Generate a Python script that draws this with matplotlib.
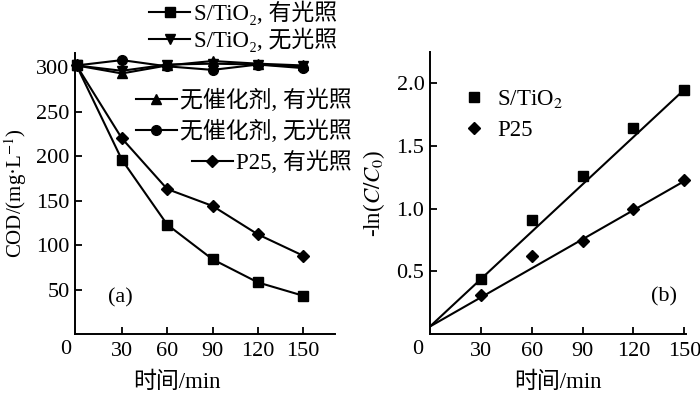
import matplotlib
matplotlib.use('Agg')
import matplotlib.pyplot as plt
from matplotlib.lines import Line2D

plt.rcParams['font.family'] = ['Liberation Serif', 'DejaVu Serif', 'Noto Sans CJK SC']
plt.rcParams['mathtext.fontset'] = 'stix'

# (a) COD vs time
t = [0, 30, 60, 90, 120, 150]
cod_s_light = [302, 196, 123, 84, 58, 43]
cod_s_dark = [302, 296, 303, 304, 303, 301]
cod_none_light = [302, 293, 302, 307, 304, 302]
cod_none_dark = [302, 308, 301, 297, 303, 299]
cod_p25_light = [302, 220, 163, 144, 112, 88]

# (b) -ln(C/C0) vs time
t_b = [30, 60, 90, 120, 150]
ln_s = [0.44, 0.91, 1.26, 1.645, 1.95]
ln_p25 = [0.31, 0.62, 0.74, 0.995, 1.225]
# fitted lines, end points
fit_t = [0, 150]
fit_s = [0.06, 1.95]
fit_p25 = [0.06, 1.22]

W, H = 700, 393
fig = plt.figure(figsize=(7, 3.93), dpi=100)

def px(x, y):
    return x / W, 1 - y / H

ax1 = fig.add_axes([75 / W, 1 - 334 / H, 260 / W, 281 / H])
ax2 = fig.add_axes([430 / W, 1 - 334 / H, 256 / W, 282 / H])

for ax in (ax1, ax2):
    for s in ('top', 'right'):
        ax.spines[s].set_visible(False)
    for s in ('left', 'bottom'):
        ax.spines[s].set_linewidth(1.4)
    ax.tick_params(direction='in', length=5, width=1.3, labelsize=16)
    ax.tick_params(axis='x', pad=6)
    ax.tick_params(axis='y', pad=4)

lw = 1.5
fs = 16.5
series = [
    (cod_s_light, 's', 7, "S/TiO₂, 有光照", (337, 13)),
    (cod_s_dark, 'v', 7, "S/TiO₂, 无光照", (337, 40)),
    (cod_none_light, '^', 7, "无催化剂, 有光照", (352, 100)),
    (cod_none_dark, 'o', 7, "无催化剂, 无光照", (352, 131)),
    (cod_p25_light, 'D', 6, "P25, 有光照", (352, 162)),
]
for vals, mk, ms, lab, pos in series:
    ax1.plot(t, vals, color='black', lw=lw, marker=mk, ms=ms, clip_on=False)
    h = Line2D([], [], color='black', lw=lw, marker=mk, ms=ms)
    fig.legend([h], [lab], loc='center right', bbox_to_anchor=px(*pos),
               frameon=False, fontsize=fs, handlelength=1.8,
               handletextpad=0.15, borderpad=0, borderaxespad=0)

ax1.set_xlim(-1, 171)
ax1.set_ylim(0, 316)
ax1.set_xticks([30, 60, 90, 120, 150])
ax1.set_yticks([50, 100, 150, 200, 250, 300])
ax1.set_xlabel("时间/min", fontsize=fs)
ax1.xaxis.set_label_coords(0.39, -0.135)
ax1.set_ylabel("COD/(mg·L$^{-1}$)", fontsize=15)
ax1.yaxis.set_label_coords(-0.175, 0.5)
ax1.text(0.173, 0.13, "(a)", transform=ax1.transAxes, fontsize=16,
         ha='center', va='center')
fig.text(*px(66, 350), "0", fontsize=16, ha='center', va='center')

ax2.plot(fit_t, fit_s, color='black', lw=lw)
ax2.plot(fit_t, fit_p25, color='black', lw=lw)
ax2.plot(t_b, ln_s, ls='none', marker='s', ms=7, color='black',
         label="S/TiO$_2$", clip_on=False)
ax2.plot(t_b, ln_p25, ls='none', marker='D', ms=6, color='black',
         label="P25", clip_on=False)
ax2.legend(loc='upper left', bbox_to_anchor=px(463, 88), bbox_transform=fig.transFigure,
           frameon=False, fontsize=fs, handlelength=1.0, handletextpad=0.5,
           borderpad=0, borderaxespad=0, labelspacing=0.45)

ax2.set_xlim(0, 151)
ax2.set_ylim(0, 2.25)
ax2.set_xticks([30, 60, 90, 120, 150])
ax2.set_yticks([0.5, 1.0, 1.5, 2.0])
ax2.set_yticklabels(["0.5", "1.0", "1.5", "2.0"])
ax2.set_xlabel("时间/min", fontsize=fs)
ax2.xaxis.set_label_coords(0.5, -0.135)
ax2.set_ylabel("-ln($C/C_0$)", fontsize=fs)
ax2.yaxis.set_label_coords(-0.168, 0.5)
ax2.text(0.914, 0.13, "(b)", transform=ax2.transAxes, fontsize=16,
         ha='center', va='center')
fig.text(*px(418, 350), "0", fontsize=16, ha='center', va='center')

fig.savefig('out.png', dpi=100)
